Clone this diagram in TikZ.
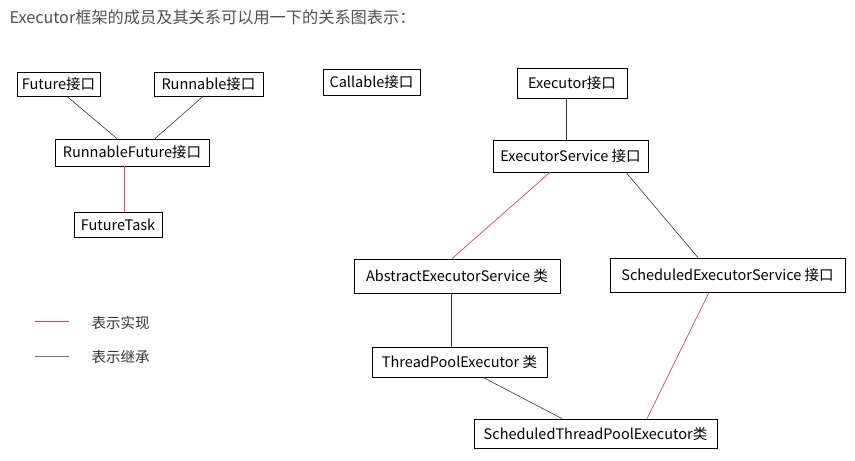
\documentclass[tikz,border=0pt]{standalone}
\usepackage{fontspec}
\setmainfont{Noto Sans CJK SC}
\usepackage{xcolor}
\usetikzlibrary{positioning, calc}

\definecolor{implred}{HTML}{D9475A}
\definecolor{titlegray}{HTML}{505050}

\begin{document}
\begin{tikzpicture}[x=1pt, y=-1pt, font=\fontsize{14.5}{16}\selectfont,
  box/.style={draw, line width=0.8pt, inner sep=0pt, align=center},
  inherit/.style={draw=black!80, line width=0.6pt},
  impl/.style={draw=implred, line width=0.7pt}]

  \useasboundingbox (0,0) rectangle (855,461);

  % title
  \node[anchor=west, text=titlegray, font=\fontsize{16.2}{18}\selectfont] (title) at (6,17)
    {Executor框架的成员及其关系可以用一下的关系图表示：};

  % left group
  \node[box, minimum width=83, minimum height=24] (future) at (58.5,84) {Future接口};
  \node[box, minimum width=109, minimum height=24] (runnable) at (208.5,84) {Runnable接口};
  \node[box, minimum width=154, minimum height=27] (runfuture) at (132,152.5) {RunnableFuture接口};
  \node[box, minimum width=88, minimum height=25] (futtask) at (118,224.5) {FutureTask};

  \draw[inherit] ([xshift=8.5]future.south) -- ([xshift=-15]runfuture.north);
  \draw[inherit] ([xshift=-5.5]runnable.south) -- ([xshift=23]runfuture.north);
  \draw[impl] ([xshift=-8]runfuture.south) -- ([xshift=6]futtask.north);

  % callable stands alone
  \node[box, minimum width=97, minimum height=26] (callable) at (371.5,82) {Callable接口};

  % executor group
  \node[box, minimum width=110, minimum height=30] (executor) at (572,83) {Executor接口};
  \node[box, minimum width=155, minimum height=32] (exservice) at (570.5,156) {ExecutorService 接口};
  \node[box, minimum width=206, minimum height=34] (abstractex) at (457,276) {AbstractExecutorService 类};
  \node[box, minimum width=235, minimum height=34] (schedservice) at (727.5,275) {ScheduledExecutorService 接口};
  \node[box, minimum width=175, minimum height=30] (poolex) at (459.5,362) {ThreadPoolExecutor 类};
  \node[box, minimum width=243, minimum height=29] (schedpool) at (595.5,433.5) {ScheduledThreadPoolExecutor类};

  \draw[inherit] ([xshift=-6]executor.south) -- ([xshift=-4.5]exservice.north);
  \draw[impl] ([xshift=-20.5]exservice.south) -- ([xshift=-5]abstractex.north);
  \draw[inherit] ([xshift=55.5]exservice.south) -- ([xshift=-29.5]schedservice.north);
  \draw[inherit] ([xshift=-6]abstractex.south) -- ([xshift=-8.5]poolex.north);
  \draw[inherit] ([xshift=23.5]poolex.south) -- ([xshift=-33.5]schedpool.north);
  \draw[impl] ([xshift=-18.5]schedservice.south) -- ([xshift=51.5]schedpool.north);

  % legend
  \draw[impl, line width=1pt] (35,321.5) -- (69,321.5);
  \node[anchor=west, text=black!80] (implkey) at (88,322.5) {表示实现};
  \draw[inherit, draw=black!55, line width=1pt] (35,356.5) -- (69,356.5);
  \node[anchor=west, text=black!80] (inhkey) at (88,357) {表示继承};

\end{tikzpicture}
\end{document}
